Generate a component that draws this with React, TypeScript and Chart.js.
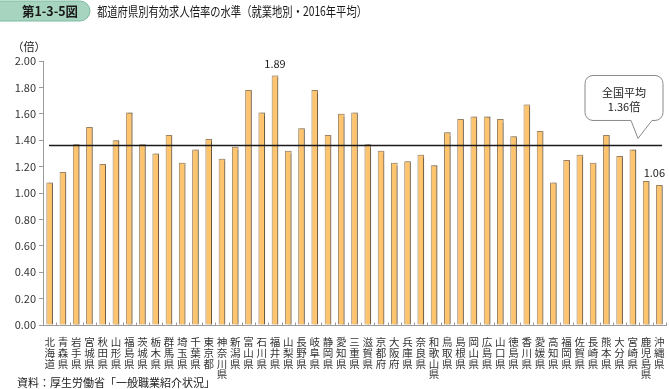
import React, { useEffect, useRef } from "react";
import { Chart, registerables } from "chart.js";

Chart.register(...registerables);

const prefectures = [
  "北海道", "青森県", "岩手県", "宮城県", "秋田県", "山形県", "福島県", "茨城県",
  "栃木県", "群馬県", "埼玉県", "千葉県", "東京都", "神奈川県", "新潟県", "富山県",
  "石川県", "福井県", "山梨県", "長野県", "岐阜県", "静岡県", "愛知県", "三重県",
  "滋賀県", "京都府", "大阪府", "兵庫県", "奈良県", "和歌山県", "鳥取県", "島根県",
  "岡山県", "広島県", "山口県", "徳島県", "香川県", "愛媛県", "高知県", "福岡県",
  "佐賀県", "長崎県", "熊本県", "大分県", "宮崎県", "鹿児島県", "沖縄県",
];

const ratios = [
  1.08, 1.16, 1.37, 1.50, 1.22, 1.40, 1.61, 1.37,
  1.30, 1.44, 1.23, 1.33, 1.41, 1.26, 1.35, 1.78,
  1.61, 1.89, 1.32, 1.49, 1.78, 1.44, 1.60, 1.61,
  1.37, 1.32, 1.23, 1.24, 1.29, 1.21, 1.46, 1.56,
  1.58, 1.58, 1.56, 1.43, 1.67, 1.47, 1.08, 1.25,
  1.29, 1.23, 1.44, 1.28, 1.33, 1.09, 1.06,
];

const nationalAverage = 1.36;
const yMin = 0;
const yMax = 2;
const yStep = 0.2;

const figureNumber = "第1-3-5図";
const titleText = "都道府県別有効求人倍率の水準（就業地別・2016年平均）";
const unitText = "（倍）";
const sourceText = "資料：厚生労働省「一般職業紹介状況」";
const calloutLines = ["全国平均", `${nationalAverage.toFixed(2)}倍`];
const highlighted = [17, 46]; // 福井県 (max), 沖縄県 (min)

const FONT = '"Noto Sans CJK JP", "Noto Sans", sans-serif';

function fitText(
  ctx: CanvasRenderingContext2D,
  text: string,
  x: number,
  y: number,
  maxW: number
) {
  const w = ctx.measureText(text).width;
  ctx.save();
  ctx.translate(x, y);
  if (w > maxW) ctx.scale(maxW / w, 1);
  ctx.fillText(text, 0, 0);
  ctx.restore();
}

const decorPlugin = {
  id: "decor",
  beforeDatasetsDraw(chart: any) {
    const ctx = chart.ctx;
    ctx.save();
    ctx.shadowColor = "rgba(0,0,0,0.35)";
    ctx.shadowOffsetX = 1.5;
    ctx.shadowOffsetY = 0;
    ctx.shadowBlur = 1;
  },
  afterDatasetsDraw(chart: any) {
    const ctx: CanvasRenderingContext2D = chart.ctx;
    ctx.restore();
    const { chartArea } = chart;
    const xs = chart.scales.x;
    const ys = chart.scales.y;

    // small inward ticks on x axis between categories
    const n = prefectures.length;
    const catW = (chartArea.right - chartArea.left) / n;
    ctx.save();
    ctx.strokeStyle = "#9a9a9a";
    ctx.lineWidth = 1;
    for (let i = 1; i <= n; i++) {
      const x = Math.round(chartArea.left + i * catW) + 0.5;
      ctx.beginPath();
      ctx.moveTo(x, chartArea.bottom);
      ctx.lineTo(x, chartArea.bottom - 2.5);
      ctx.stroke();
    }
    ctx.restore();

    // average line
    const avgY = ys.getPixelForValue(nationalAverage);
    ctx.save();
    ctx.strokeStyle = "#1a1a1a";
    ctx.lineWidth = 1.5;
    ctx.beginPath();
    ctx.moveTo(chartArea.left + 6, avgY);
    ctx.lineTo(chartArea.right - 4, avgY);
    ctx.stroke();
    ctx.restore();

    // value labels
    const meta = chart.getDatasetMeta(0);
    ctx.save();
    ctx.fillStyle = "#222";
    ctx.font = `11px ${FONT}`;
    ctx.textAlign = "center";
    ctx.textBaseline = "middle";
    highlighted.forEach((idx) => {
      const el = meta.data[idx];
      const dx = idx === n - 1 ? -5 : 0;
      ctx.fillText(ratios[idx].toFixed(2), el.x + dx, el.y - 12);
    });
    ctx.restore();

    // callout
    const tipX = chartArea.right - 28;
    const tipY = avgY - 7;
    const bBottom = tipY - 18;
    const bTop = bBottom - 45;
    const bRight = chartArea.right - 3;
    const bLeft = bRight - 78;
    const r = 8;
    ctx.save();
    ctx.fillStyle = "#ffffff";
    ctx.strokeStyle = "#8a8a8a";
    ctx.lineWidth = 1;
    ctx.beginPath();
    ctx.moveTo(bLeft + r, bTop);
    ctx.lineTo(bRight - r, bTop);
    ctx.arcTo(bRight, bTop, bRight, bTop + r, r);
    ctx.lineTo(bRight, bBottom - r);
    ctx.arcTo(bRight, bBottom, bRight - r, bBottom, r);
    ctx.lineTo(tipX + 14, bBottom);
    ctx.lineTo(tipX, tipY);
    ctx.lineTo(tipX - 7, bBottom);
    ctx.lineTo(bLeft + r, bBottom);
    ctx.arcTo(bLeft, bBottom, bLeft, bBottom - r, r);
    ctx.lineTo(bLeft, bTop + r);
    ctx.arcTo(bLeft, bTop, bLeft + r, bTop, r);
    ctx.closePath();
    ctx.fill();
    ctx.stroke();
    ctx.fillStyle = "#222";
    ctx.font = `11px ${FONT}`;
    ctx.textAlign = "center";
    ctx.textBaseline = "middle";
    const cx = (bLeft + bRight) / 2;
    ctx.fillText(calloutLines[0], cx, bTop + 17);
    ctx.fillText(calloutLines[1], cx, bTop + 31);
    ctx.restore();

    // header
    ctx.save();
    ctx.fillStyle = "#a6d4bf";
    ctx.strokeStyle = "#7cbba2";
    ctx.lineWidth = 1;
    const hx0 = -12, hx1 = 90, hy0 = 1, hy1 = 21, hr = 10;
    ctx.beginPath();
    ctx.moveTo(hx0 + hr, hy0);
    ctx.lineTo(hx1 - hr, hy0);
    ctx.arcTo(hx1, hy0, hx1, hy0 + hr, hr);
    ctx.arcTo(hx1, hy1, hx1 - hr, hy1, hr);
    ctx.lineTo(hx0 + hr, hy1);
    ctx.arcTo(hx0, hy1, hx0, hy1 - hr, hr);
    ctx.arcTo(hx0, hy0, hx0 + hr, hy0, hr);
    ctx.closePath();
    ctx.fill();
    ctx.stroke();
    ctx.fillStyle = "#1a1a1a";
    ctx.textBaseline = "middle";
    ctx.textAlign = "left";
    ctx.font = `bold 13px ${FONT}`;
    fitText(ctx, figureNumber, 22, 11.5, 56);
    ctx.font = `13px ${FONT}`;
    fitText(ctx, titleText, 97, 11.5, 270);

    // unit label
    ctx.font = `11px ${FONT}`;
    ctx.fillStyle = "#222";
    ctx.textAlign = "center";
    ctx.fillText(unitText, 29, 47);

    // source
    ctx.textAlign = "left";
    ctx.font = `11px ${FONT}`;
    ctx.fillText(sourceText, 17, 383);
    ctx.restore();
  },
};

export default function App() {
  const canvasRef = useRef<HTMLCanvasElement | null>(null);

  useEffect(() => {
    const canvas = canvasRef.current;
    if (!canvas) return;
    const chart = new Chart(canvas, {
      type: "bar",
      data: {
        labels: prefectures.map((p) => p.split("")),
        datasets: [
          {
            data: ratios,
            backgroundColor: "#ffc46e",
            borderColor: "#9c8466",
            borderWidth: 1,
            barPercentage: 0.5,
            categoryPercentage: 1,
          },
        ],
      },
      options: {
        animation: false,
        responsive: false,
        devicePixelRatio: 1,
        layout: { padding: { top: 61, left: 0, right: 3, bottom: 0 } },
        plugins: {
          legend: { display: false },
          tooltip: { enabled: false },
          title: { display: false },
        },
        scales: {
          x: {
            grid: { display: false },
            border: { display: true, color: "#9a9a9a", width: 1 },
            ticks: {
              autoSkip: false,
              maxRotation: 0,
              minRotation: 0,
              padding: 4,
              color: "#333",
              font: { family: FONT, size: 10.5, lineHeight: 1.02 },
            },
            afterFit: (scale: any) => {
              scale.height = 64;
            },
          },
          y: {
            min: yMin,
            max: yMax,
            grid: {
              drawOnChartArea: false,
              drawTicks: true,
              tickLength: 4,
              color: "#9a9a9a",
            },
            border: { display: true, color: "#9a9a9a", width: 1 },
            ticks: {
              stepSize: yStep,
              padding: 3,
              color: "#333",
              font: { family: FONT, size: 11 },
              callback: (v: any) => Number(v).toFixed(2),
            },
            afterFit: (scale: any) => {
              scale.width = 43;
            },
          },
        },
      },
      plugins: [decorPlugin],
    });
    return () => chart.destroy();
  }, []);

  return (
    <div style={{ position: "absolute", left: 0, top: 0, width: 669, height: 389, background: "#fff" }}>
      <canvas ref={canvasRef} width={669} height={389} style={{ display: "block" }} />
    </div>
  );
}
